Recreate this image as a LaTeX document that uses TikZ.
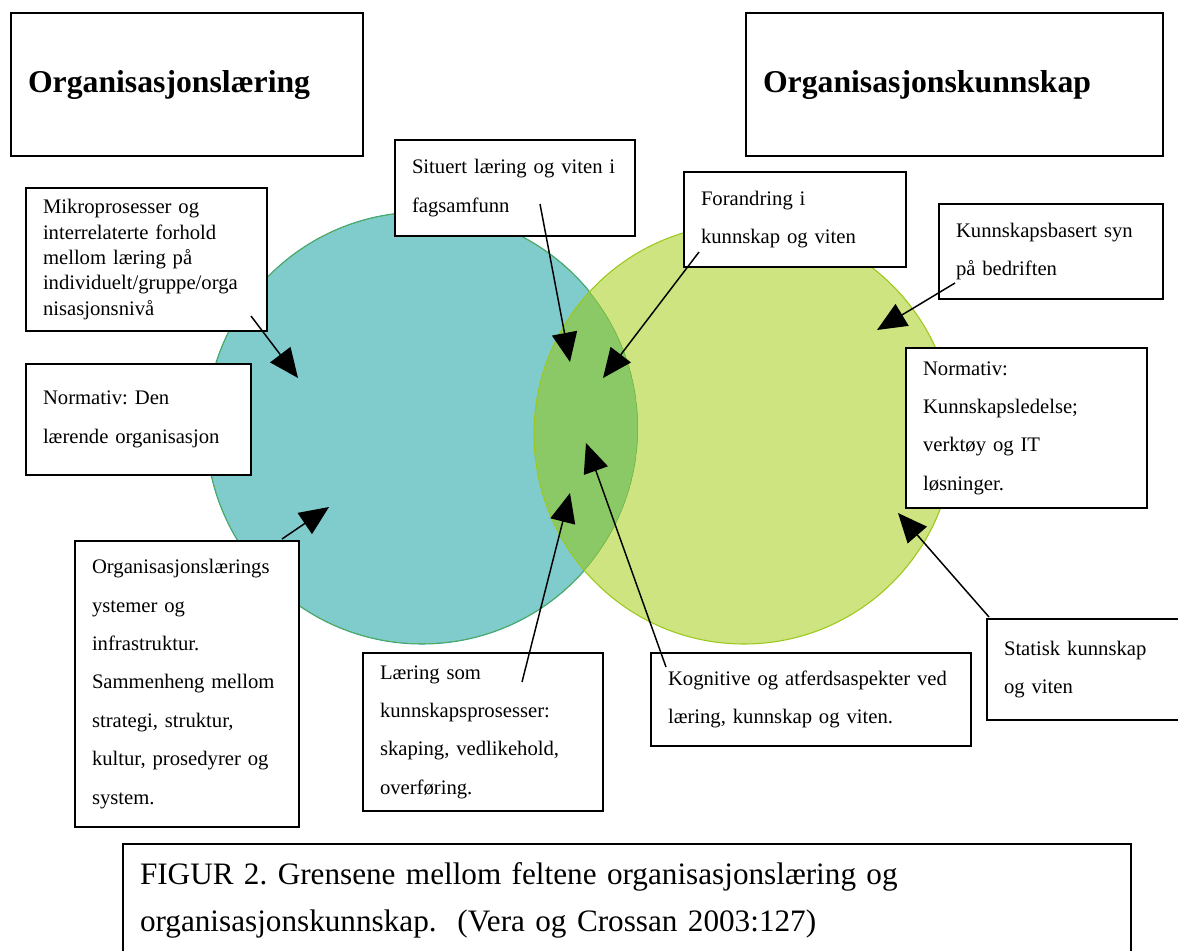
\documentclass[tikz,border=0pt]{standalone}
\usepackage{fontspec}
\setmainfont{Liberation Serif}
\usetikzlibrary{arrows.meta}

\definecolor{tealfill}{HTML}{80CBCC}
\definecolor{tealedge}{HTML}{1E9E9E}
\definecolor{limefill}{HTML}{CDE480}
\definecolor{limeedge}{HTML}{9CC81E}
\definecolor{mixfill}{HTML}{8BC966}

\begin{document}
\frenchspacing
\begin{tikzpicture}[x=0.75pt, y=-0.75pt,
  box/.style 2 args={draw, line width=1.5pt, fill=white, anchor=north west,
    minimum width=#1*0.75pt, minimum height=#2*0.75pt,
    text width=(#1-34)*0.75pt, inner xsep=0pt, inner ysep=0pt, align=left,
    font=\fontsize{15.5}{28.8}\selectfont},
  headbox/.style={font=\fontsize{23.8}{28}\selectfont\bfseries},
  arr/.style={-{Triangle[length=22pt, width=19pt]}, line width=1.1pt}]

  \useasboundingbox (0,0) rectangle (1178,950);

  % the two fields
  \coordinate (ol) at (422,428);
  \coordinate (ok) at (744,434);
  \fill[tealfill] (ol) circle[radius=162pt];
  \draw[tealedge, line width=0.8pt] (ol) circle[radius=162pt];
  \fill[limefill] (ok) circle[radius=157.5pt];
  \begin{scope}
    \clip (ol) circle[radius=162pt];
    \fill[mixfill] (ok) circle[radius=157.5pt];
    \draw[limeedge!70!teal, line width=0.8pt] (ol) circle[radius=162pt];
  \end{scope}
  \draw[limeedge, line width=0.8pt] (ok) circle[radius=157.5pt];

  % headings
  \node (olTitle) at (10,12) [box={352}{143}, headbox] {Organisasjonslæring};
  \node (okTitle) at (745,12) [box={417}{143}, headbox] {Organisasjonskunnskap};

  % labels
  \node (situert) at (394,139) [box={240}{96}] {Situert læring og viten i\\ fagsamfunn};
  \node (forandring) at (683,171) [box={222}{95}] {Forandring i\\ kunnskap og viten};
  \node (kbasert) at (938,203) [box={224}{95}] {Kunnskapsbasert syn\\ på bedriften};
  \node (mikro) at (25,187) [box={241}{143}, font=\fontsize{15.5}{19.1}\selectfont]
    {Mikroprosesser og\\ interrelaterte forhold\\ mellom læring på\\ individuelt/gruppe/orga\\ nisasjonsnivå};
  \node (normDen) at (25,363) [box={225}{111}] {Normativ: Den\\ lærende organisasjon};
  \node (normKs) at (905,347) [box={241}{160}] {Normativ:\\ Kunnskapsledelse;\\ verktøy og IT\\ løsninger.};
  \node (orgsys) at (74,540) [box={224}{286}]
    {Organisasjonslærings\\ ystemer og\\ infrastruktur.\\ Sammenheng mellom\\ strategi, struktur,\\ kultur, prosedyrer og\\ system.};
  \node (laering) at (362,652) [box={240}{158}] {Læring som\\ kunnskapsprosesser:\\ skaping, vedlikehold,\\ overføring.};
  \node (kogn) at (650,652) [box={320}{93}] {Kognitive og atferdsaspekter ved\\ læring, kunnskap og viten.};
  \node (statisk) at (986,618) [box={220}{101}] {Statisk kunnskap\\ og viten};

  % caption
  \node (caption) at (122,843) [box={1008}{113}, font=\fontsize{23.4}{35.25}\selectfont]
    {FIGUR 2. Grensene mellom feltene organisasjonslæring og\\ organisasjonskunnskap.\ \ (Vera og Crossan 2003:127)};

  % arrows
  \coordinate (mikro-from) at (251,316);      \coordinate (mikro-to) at (298,378);
  \coordinate (orgsys-from) at (282,539);     \coordinate (orgsys-to) at (329,507);
  \coordinate (situert-from) at (540,204);    \coordinate (situert-to) at (570,362);
  \coordinate (forandring-from) at (699,252); \coordinate (forandring-to) at (603,378);
  \coordinate (kbasert-from) at (955,283);    \coordinate (kbasert-to) at (877,330);
  \coordinate (kogn-from) at (666,667);       \coordinate (kogn-to) at (586,443);
  \coordinate (laering-from) at (522,682);    \coordinate (laering-to) at (570,493);
  \coordinate (statisk-from) at (989,617);    \coordinate (statisk-to) at (898,513);
  \foreach \n in {mikro,orgsys,situert,forandring,kbasert,kogn,laering,statisk} {
    \draw[arr] (\n-from) -- (\n-to);
  }
\end{tikzpicture}
\end{document}
